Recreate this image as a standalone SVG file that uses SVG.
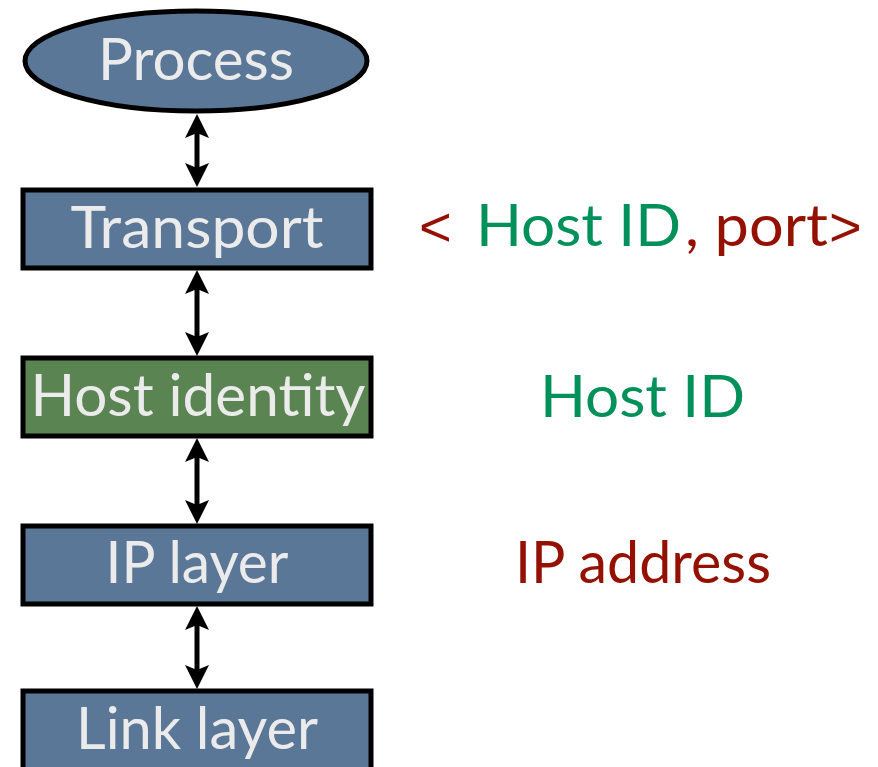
<svg xmlns="http://www.w3.org/2000/svg" width="878" height="767" viewBox="0 0 878 767">
<style>
.blue{fill:#5b7798;stroke:#000;stroke-width:5}
.green{fill:#5a8452;stroke:#000;stroke-width:5}
.lbl{font-family:Lato,"Open Sans",sans-serif;font-size:58px;fill:#ebebeb}
.side{font-family:Lato,"Open Sans",sans-serif;font-size:58px}
.br{font-family:"Liberation Sans",Arial,sans-serif;font-size:56px}
.g{fill:#00915a}
.r{fill:#941100}
.conn{stroke:#000;stroke-width:5;fill:none;marker-start:url(#ah);marker-end:url(#ah)}
</style>
<defs>
<marker id="ah" viewBox="0 0 24 24" markerWidth="24" markerHeight="24" refX="17" refY="12" orient="auto-start-reverse" markerUnits="userSpaceOnUse">
<path d="M0,0 L24,12 L0,24 L5,12 z" fill="#000"/>
</marker>
</defs>
<g id="connectors">
<path class="conn" d="M197,121 L197,180"/>
<path class="conn" d="M197,277 L197,349"/>
<path class="conn" d="M197,445 L197,517"/>
<path class="conn" d="M197,613 L197,682"/>
</g>
<g id="process">
<ellipse class="blue" cx="196" cy="61" rx="171" ry="50"/>
<text class="lbl" x="196" y="80" text-anchor="middle" textLength="196" lengthAdjust="spacingAndGlyphs">Process</text>
</g>
<g id="transport">
<rect class="blue" x="23" y="190" width="348" height="78"/>
<text class="lbl" x="197" y="248" text-anchor="middle" textLength="253" lengthAdjust="spacingAndGlyphs">Transport</text>
</g>
<g id="host-identity">
<rect class="green" x="23" y="358" width="348" height="78"/>
<text class="lbl" x="198" y="416" text-anchor="middle" textLength="335" lengthAdjust="spacingAndGlyphs">Host identity</text>
</g>
<g id="ip-layer">
<rect class="blue" x="23" y="526" width="348" height="78"/>
<text class="lbl" x="197" y="583" text-anchor="middle" textLength="183" lengthAdjust="spacingAndGlyphs">IP layer</text>
</g>
<g id="link-layer">
<rect class="blue" x="23" y="691" width="348" height="90"/>
<text class="lbl" x="197" y="749" text-anchor="middle" textLength="242" lengthAdjust="spacingAndGlyphs">Link layer</text>
</g>
<g id="labels">
<text class="side" y="246"><tspan class="r br" x="419">&lt;</tspan><tspan class="g" x="476" textLength="205" lengthAdjust="spacingAndGlyphs">Host ID</tspan><tspan class="r" x="685" textLength="143" lengthAdjust="spacingAndGlyphs">, port</tspan><tspan class="r br" x="829">&gt;</tspan></text>
<text class="side g" x="540" y="417" textLength="205" lengthAdjust="spacingAndGlyphs">Host ID</text>
<text class="side r" x="515" y="583" textLength="256" lengthAdjust="spacingAndGlyphs">IP address</text>
</g>
</svg>
